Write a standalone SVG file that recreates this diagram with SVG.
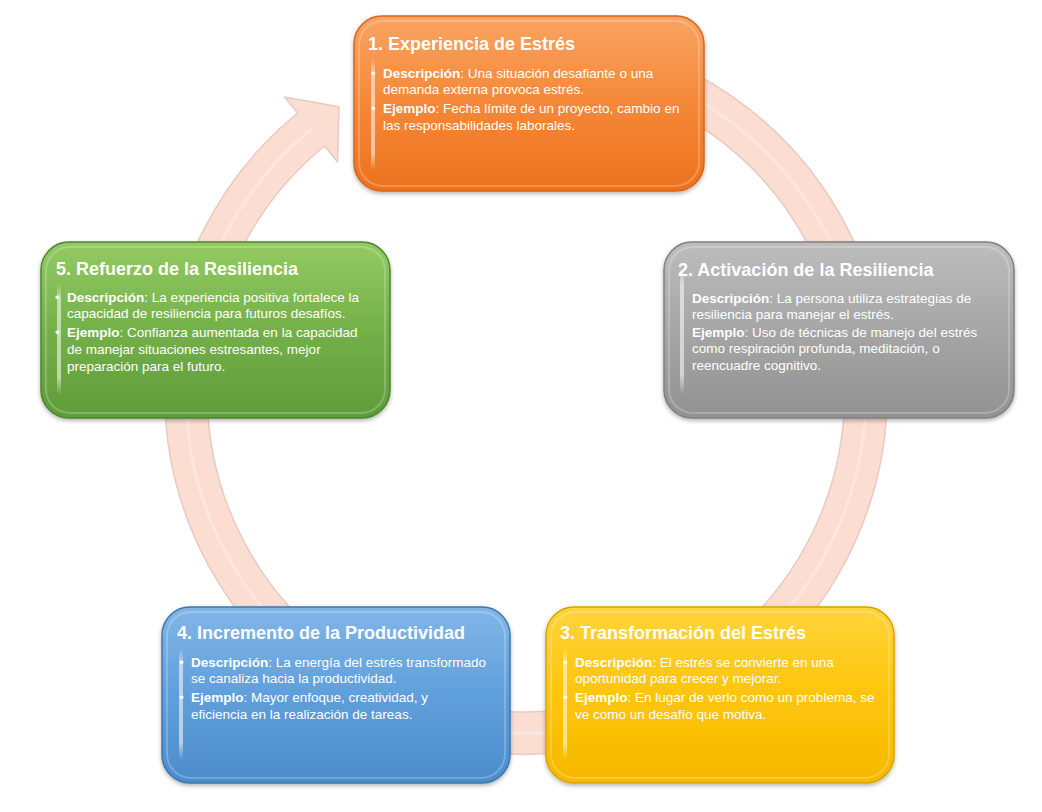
<svg xmlns="http://www.w3.org/2000/svg" width="1042" height="812" viewBox="0 0 1042 812">
<defs>
<style>
.ttl{font-family:"Liberation Sans",Arial,sans-serif;font-weight:bold;font-size:18px;fill:#fff}
.bd{font-family:"Liberation Sans",Arial,sans-serif;font-size:13.5px;fill:#fff}
.bd .b{font-weight:bold}
.rim{fill:none;stroke:#fff;stroke-opacity:.22;stroke-width:2}
.hl{fill:url(#hlg)}
</style>
<filter id="sh" x="-10%" y="-10%" width="120%" height="125%"><feDropShadow dx="0" dy="2" stdDeviation="2" flood-color="#000" flood-opacity=".3"/></filter>
<linearGradient id="hlg" x1="0" y1="0" x2="0" y2="1"><stop offset="0" stop-color="#fff" stop-opacity="0"/><stop offset=".15" stop-color="#fff" stop-opacity=".55"/><stop offset=".85" stop-color="#fff" stop-opacity=".55"/><stop offset="1" stop-color="#fff" stop-opacity="0"/></linearGradient>
<linearGradient id="go" x1="0" y1="0" x2="0" y2="1"><stop offset="0" stop-color="#F9A462"/><stop offset=".5" stop-color="#F58838"/><stop offset="1" stop-color="#EC721E"/></linearGradient>
<linearGradient id="gg" x1="0" y1="0" x2="0" y2="1"><stop offset="0" stop-color="#BDBDBD"/><stop offset=".5" stop-color="#A6A6A6"/><stop offset="1" stop-color="#929292"/></linearGradient>
<linearGradient id="gy" x1="0" y1="0" x2="0" y2="1"><stop offset="0" stop-color="#FFD43C"/><stop offset=".5" stop-color="#FFC50A"/><stop offset="1" stop-color="#F5B800"/></linearGradient>
<linearGradient id="gb" x1="0" y1="0" x2="0" y2="1"><stop offset="0" stop-color="#82B6E8"/><stop offset=".5" stop-color="#5F9FDB"/><stop offset="1" stop-color="#4C8CCB"/></linearGradient>
<linearGradient id="gn" x1="0" y1="0" x2="0" y2="1"><stop offset="0" stop-color="#93CB62"/><stop offset=".5" stop-color="#74B049"/><stop offset="1" stop-color="#5F9C38"/></linearGradient>
</defs>
<rect width="1042" height="812" fill="#fff"/>

<g id="connectors">
<path d="M585,58.2 A340,340 0 1 1 311.1,129.5" fill="none" stroke="#EACAC0" stroke-width="44"/>
<path d="M585,58.2 A340,340 0 1 1 311.1,129.5" fill="none" stroke="#FBDDD2" stroke-width="41"/>
<path d="M585,58.2 A340,340 0 1 1 311.1,129.5" fill="none" stroke="#FDEAE3" stroke-width="3" opacity=".8"/>
<polygon points="284.5,97 339,106.7 337.6,162" fill="#FBDDD2"/>
<path d="M297.8,113.2 L284.5,97 L339,106.7 L337.6,162 L324.4,145.8" fill="none" stroke="#EACAC0" stroke-width="1.5" stroke-linejoin="round"/>
</g>

<g id="n1">
<rect x="354" y="16" width="350" height="175" rx="28" fill="url(#go)" stroke="#D8661C" stroke-width="1.5" filter="url(#sh)"/>
<rect class="rim" x="359" y="21" width="340" height="165" rx="24"/>
<rect class="hl" x="371" y="58" width="4" height="112"/>
<text class="ttl" x="368" y="50">1. Experiencia de Estrés</text>
<text class="bd" x="371" y="78">•</text><text class="bd" x="383" y="78"><tspan class="b">Descripción</tspan>: Una situación desafiante o una</text>
<text class="bd" x="383" y="94">demanda externa provoca estrés.</text>
<text class="bd" x="371" y="113">•</text><text class="bd" x="383" y="113"><tspan class="b">Ejemplo</tspan>: Fecha límite de un proyecto, cambio en</text>
<text class="bd" x="383" y="130">las responsabilidades laborales.</text>
</g>

<g id="n2">
<rect x="664" y="242" width="350" height="176" rx="28" fill="url(#gg)" stroke="#808080" stroke-width="1.5" filter="url(#sh)"/>
<rect class="rim" x="669" y="247" width="340" height="166" rx="24"/>
<rect class="hl" x="680" y="266" width="4" height="128"/>
<text class="ttl" x="678" y="276">2. Activación de la Resiliencia</text>
<text class="bd" x="692" y="303"><tspan class="b">Descripción</tspan>: La persona utiliza estrategias de</text>
<text class="bd" x="692" y="319">resiliencia para manejar el estrés.</text>
<text class="bd" x="692" y="337"><tspan class="b">Ejemplo</tspan>: Uso de técnicas de manejo del estrés</text>
<text class="bd" x="692" y="353">como respiración profunda, meditación, o</text>
<text class="bd" x="692" y="370">reencuadre cognitivo.</text>
</g>

<g id="n3">
<rect x="546" y="607" width="348" height="176" rx="28" fill="url(#gy)" stroke="#D9A400" stroke-width="1.5" filter="url(#sh)"/>
<rect class="rim" x="551" y="612" width="338" height="166" rx="24"/>
<rect class="hl" x="563" y="648" width="4" height="112"/>
<text class="ttl" x="560" y="639">3. Transformación del Estrés</text>
<text class="bd" x="563" y="667">•</text><text class="bd" x="575" y="667"><tspan class="b">Descripción</tspan>: El estrés se convierte en una</text>
<text class="bd" x="575" y="683">oportunidad para crecer y mejorar.</text>
<text class="bd" x="563" y="702">•</text><text class="bd" x="575" y="702"><tspan class="b">Ejemplo</tspan>: En lugar de verlo como un problema, se</text>
<text class="bd" x="575" y="719">ve como un desafío que motiva.</text>
</g>

<g id="n4">
<rect x="162" y="607" width="348" height="176" rx="28" fill="url(#gb)" stroke="#3E77B0" stroke-width="1.5" filter="url(#sh)"/>
<rect class="rim" x="167" y="612" width="338" height="166" rx="24"/>
<rect class="hl" x="179" y="648" width="4" height="112"/>
<text class="ttl" x="177" y="639">4. Incremento de la Productividad</text>
<text class="bd" x="179" y="667">•</text><text class="bd" x="191" y="667"><tspan class="b">Descripción</tspan>: La energía del estrés transformado</text>
<text class="bd" x="191" y="683">se canaliza hacia la productividad.</text>
<text class="bd" x="179" y="702">•</text><text class="bd" x="191" y="702"><tspan class="b">Ejemplo</tspan>: Mayor enfoque, creatividad, y</text>
<text class="bd" x="191" y="719">eficiencia en la realización de tareas.</text>
</g>

<g id="n5">
<rect x="41" y="242" width="349" height="176" rx="28" fill="url(#gn)" stroke="#4E8530" stroke-width="1.5" filter="url(#sh)"/>
<rect class="rim" x="46" y="247" width="339" height="166" rx="24"/>
<rect class="hl" x="57" y="283" width="4" height="112"/>
<text class="ttl" x="56" y="275">5. Refuerzo de la Resiliencia</text>
<text class="bd" x="55" y="302">•</text><text class="bd" x="67" y="302"><tspan class="b">Descripción</tspan>: La experiencia positiva fortalece la</text>
<text class="bd" x="67" y="318">capacidad de resiliencia para futuros desafíos.</text>
<text class="bd" x="55" y="337">•</text><text class="bd" x="67" y="337"><tspan class="b">Ejemplo</tspan>: Confianza aumentada en la capacidad</text>
<text class="bd" x="67" y="354">de manejar situaciones estresantes, mejor</text>
<text class="bd" x="67" y="371">preparación para el futuro.</text>
</g>
</svg>
